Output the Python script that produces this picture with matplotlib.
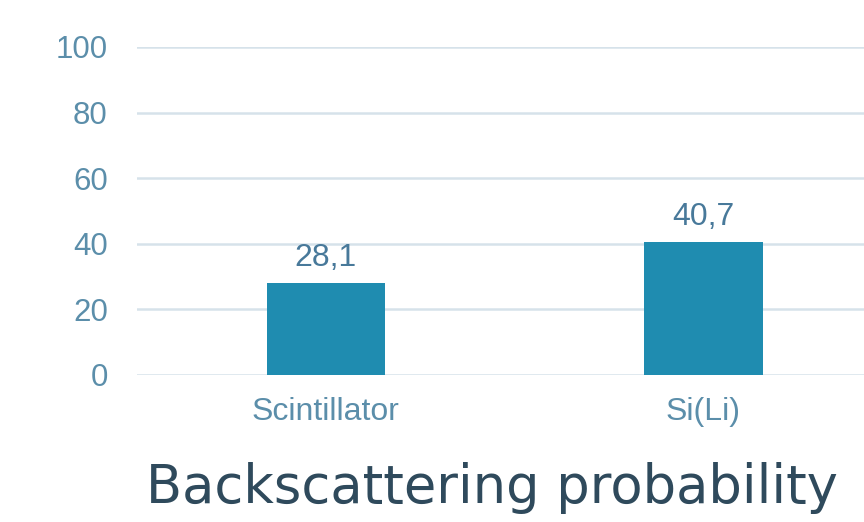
import matplotlib
matplotlib.use('Agg')
import matplotlib.pyplot as plt

# data
categories = ['Scintillator', 'Si(Li)']
values = [28.1, 40.7]
y_ticks = [0, 20, 40, 60, 80, 100]
title = 'Backscattering probability'

bar_color = '#1f8cb0'
tick_color = '#5b8eaa'
label_color = '#48799a'
title_color = '#2f4a5c'
grid_color = '#d6e2ea'

fig = plt.figure(figsize=(8.64, 5.22), dpi=100)
ax = fig.add_axes([137 / 864, 1 - 375 / 522, 1 - 137 / 864, (375 - 47) / 522])

x = list(range(len(categories)))
bars = ax.bar(x, values, width=0.313, color=bar_color, zorder=3)

for xi, v in zip(x, values):
    ax.annotate(f'{v:.1f}'.replace('.', ','), (xi, v), xytext=(0, 12),
                textcoords='offset points', ha='center', va='baseline',
                fontsize=23, color=label_color, family='Liberation Sans')

ax.set_xlim(-0.5, 1.425)
ax.set_ylim(0, 100)
ax.set_yticks(y_ticks)
ax.set_xticks(x)
ax.set_xticklabels(categories)
ax.yaxis.grid(True, color=grid_color, linewidth=1.8, zorder=0)
for s in ax.spines.values():
    s.set_visible(False)
ax.tick_params(axis='both', length=0, labelcolor=tick_color)
ax.tick_params(axis='x', pad=16, labelsize=23)
ax.tick_params(axis='y', pad=21, labelsize=22.5)
for lab in ax.get_xticklabels() + ax.get_yticklabels():
    lab.set_family('Liberation Sans')

fig.text(492 / 864, 1 - 503 / 522, title, ha='center', va='baseline',
         fontsize=38, color=title_color, family='DejaVu Sans')

fig.savefig('out.png', dpi=100)
